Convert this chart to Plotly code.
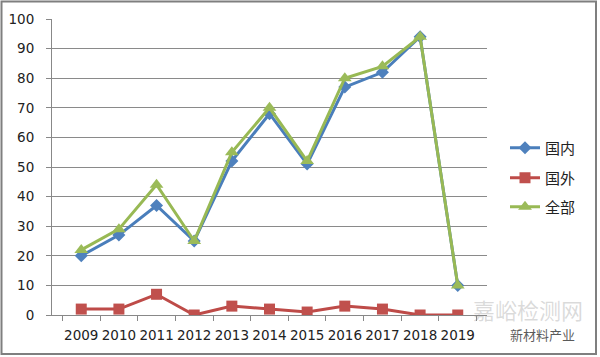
import plotly.graph_objects as go

years = ["2009", "2010", "2011", "2012", "2013", "2014", "2015", "2016", "2017", "2018", "2019"]
domestic = [20, 27, 37, 25, 52, 68, 51, 77, 82, 94, 10]
foreign = [2, 2, 7, 0, 3, 2, 1, 3, 2, 0, 0]
total = [22, 29, 44, 25, 55, 70, 52, 80, 84, 94, 10]
names = ["国内", "国外", "全部"]

W, H = 600, 357
L, R, T, B = 52, 113, 19, 42
pw, ph = W - L - R, H - T - B


def px(x):
    return (x - L) / pw


def py(y):
    return (H - B - y) / ph


fig = go.Figure()
fig.add_trace(go.Scatter(x=years, y=domestic, name=names[0], mode="lines+markers",
                         line=dict(color="#4A7EBB", width=3),
                         marker=dict(symbol="diamond", size=10, color="#4F81BD"),
                         legend="legend"))
fig.add_trace(go.Scatter(x=years, y=foreign, name=names[1], mode="lines+markers",
                         line=dict(color="#BE4B48", width=3),
                         marker=dict(symbol="square", size=11, color="#C0504D"),
                         legend="legend2"))
fig.add_trace(go.Scatter(x=years, y=total, name=names[2], mode="lines+markers",
                         line=dict(color="#98B954", width=3),
                         marker=dict(symbol="triangle-up", size=12, color="#9BBB59"),
                         legend="legend3"))

legfont = dict(family="Noto Sans CJK SC", size=15, color="#222222")
common = dict(xanchor="left", yanchor="middle", bgcolor="rgba(0,0,0,0)",
              font=legfont, borderwidth=0)

fig.update_layout(
    width=W, height=H,
    showlegend=True,
    margin=dict(l=L, r=R, t=T, b=B, pad=0, autoexpand=False),
    paper_bgcolor="white", plot_bgcolor="white",
    font=dict(family="DejaVu Sans", size=13.5, color="#222222"),
    legend=dict(x=px(505), y=py(148), **common),
    legend2=dict(x=px(505), y=py(178), **common),
    legend3=dict(x=px(505), y=py(207), **common),
    xaxis=dict(type="category", showgrid=False, showline=True, linecolor="#888888",
               linewidth=1, ticks="outside", tickson="boundaries", ticklen=5,
               tickcolor="#888888", tickfont=dict(size=13.5, color="#222222"),
               tickangle=0, automargin=False, ticklabelstandoff=8),
    yaxis=dict(range=[0, 100], dtick=10, showgrid=True, gridcolor="#8A8A8A",
               gridwidth=1, showline=True, linecolor="#888888", linewidth=1,
               ticks="outside", ticklen=5, tickcolor="#888888", zeroline=False,
               automargin=False,
               tickfont=dict(size=13.5, color="#222222"), ticklabelstandoff=9),
    shapes=[dict(type="rect", xref="paper", yref="paper",
                 x0=px(1.5), x1=px(596), y0=py(354), y1=py(1.5),
                 line=dict(color="#7F7F7F", width=2), fillcolor="rgba(0,0,0,0)",
                 layer="above")],
    annotations=[
        dict(text="嘉峪检测网", xref="paper", yref="paper", x=px(528), y=py(309),
             xanchor="center", yanchor="middle", showarrow=False,
             font=dict(family="Noto Sans CJK SC", size=22, color="rgba(150,150,150,0.35)")),
        dict(text="新材料产业", xref="paper", yref="paper", x=px(542), y=py(334),
             xanchor="center", yanchor="middle", showarrow=False,
             font=dict(family="Noto Sans CJK SC", size=13, color="rgba(60,60,60,0.85)")),
    ],
)

fig.write_html("out.html", post_script="document.body.style.margin='0';",
               config={"displayModeBar": False})
